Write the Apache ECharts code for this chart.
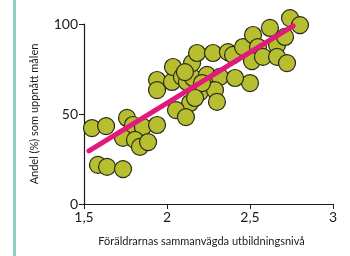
<!DOCTYPE html>
<html>
<head>
<meta charset="utf-8">
<script src="https://cdn.jsdelivr.net/npm/echarts@6/dist/echarts.min.js"></script>
<style>
  html, body { margin: 0; padding: 0; background: #fff; }
  #chart { width: 350px; height: 256px; }
</style>
</head>
<body>
<div id="chart"></div>
<script>
// data
const xTicks = [1.5, 2, 2.5, 3];
const yTicks = [0, 50, 100];
const parentLevel = [
  1.548, 1.633, 1.759, 1.795, 1.855, 1.940, 1.735, 1.807, 1.837, 1.886,
  1.584, 1.639, 1.735, 1.940, 1.940, 2.030, 2.036, 2.090, 2.120, 2.157,
  2.151, 2.181, 2.199, 2.139, 2.054, 2.114, 2.277, 2.367, 2.398, 2.241,
  2.319, 2.289, 2.301, 2.458, 2.518, 2.548, 2.512, 2.578, 2.620, 2.663,
  2.663, 2.711, 2.723, 2.741, 2.801, 2.500, 2.410, 2.211, 2.169, 2.108
];
const shareReached = [
  42.2, 43.3, 47.8, 43.9, 42.8, 43.9, 36.7, 35.6, 31.7, 34.4,
  21.7, 20.6, 19.4, 68.9, 63.3, 67.8, 76.1, 70.6, 67.8, 70.0,
  78.3, 83.9, 62.2, 56.1, 52.2, 48.3, 83.9, 84.4, 82.8, 71.7,
  70.6, 63.3, 56.7, 87.2, 93.9, 87.2, 79.4, 81.7, 97.8, 88.3,
  81.7, 92.8, 78.3, 103.3, 99.4, 67.2, 70.0, 67.2, 58.9, 73.3
];
const trendX = [1.53, 2.76];
const trendY = [29.5, 99];

const font = "Lato, 'DejaVu Sans', sans-serif";
const points = parentLevel.map((x, i) => [x, shareReached[i]]);
const trend = trendX.map((x, i) => [x, trendY[i]]);

const chart = echarts.init(document.getElementById("chart"));
chart.setOption({
  animation: false,
  grid: { left: 84, right: 17, top: 24, bottom: 52 },
  graphic: [
    { type: "rect", shape: { x: 13, y: 0, width: 3, height: 256 }, style: { fill: "#8fd0c4" } }
  ],
  xAxis: {
    type: "value",
    min: 1.5, max: 3, interval: 0.5,
    name: "Föräldrarnas sammanvägda utbildningsnivå",
    nameLocation: "middle",
    nameGap: 32,
    nameTextStyle: { fontFamily: font, fontSize: 11, color: "#1a1a1a", padding: [0, 14, 0, 0] },
    axisLine: { lineStyle: { color: "#1a1a1a", width: 1.2 } },
    axisTick: { inside: false, length: 5, lineStyle: { color: "#1a1a1a" } },
    splitLine: { show: false },
    axisLabel: {
      fontFamily: font, fontSize: 14, color: "#1a1a1a", margin: 6,
      formatter: v => String(v).replace(".", ",")
    }
  },
  yAxis: {
    type: "value",
    min: 0, max: 100, interval: 50,
    name: "Andel (%) som uppnått målen",
    nameLocation: "middle",
    nameGap: 44,
    nameTextStyle: { fontFamily: font, fontSize: 11, color: "#1a1a1a" },
    axisLine: { show: true, lineStyle: { color: "#1a1a1a", width: 1.2 } },
    axisTick: { show: true, length: 5, lineStyle: { color: "#1a1a1a" } },
    splitLine: { show: false },
    axisLabel: { fontFamily: font, fontSize: 14, color: "#1a1a1a", margin: 6 }
  },
  series: [
    {
      type: "scatter",
      clip: false,
      symbolSize: 17,
      itemStyle: { color: "#b7be2f", borderColor: "#2a2a18", borderWidth: 1.2, opacity: 1 },
      data: points
    },
    {
      type: "line",
      clip: false,
      symbol: "none",
      lineStyle: { color: "#e2197c", width: 5, cap: "round" },
      data: trend,
      z: 5
    }
  ]
});
</script>
</body>
</html>
